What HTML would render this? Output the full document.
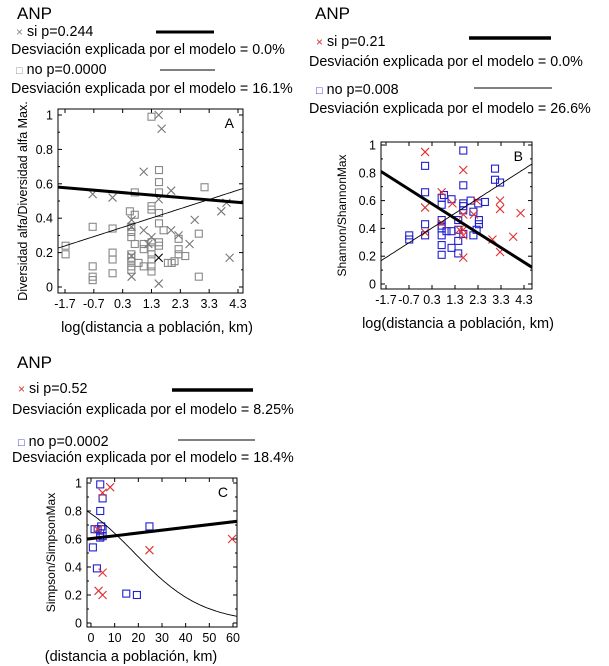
<!DOCTYPE html>
<html><head><meta charset="utf-8">
<style>
html,body{margin:0;padding:0;background:#fff;}
svg{display:block;font-family:"Liberation Sans",Arial,sans-serif;}
</style></head>
<body>
<svg id="chart" width="609" height="666" viewBox="0 0 609 666">
<g font-size="14.3" fill="#000">
<text x="17" y="19" font-size="17">ANP</text>
<text x="16" y="36"><tspan fill="#888" font-size="12">×</tspan> si   p=0.244</text>
<line x1="156" y1="32" x2="214" y2="32" stroke="#000" stroke-width="3"/>
<text x="11" y="54">Desviación explicada por el modelo = 0.0%</text>
<text x="16" y="74"><tspan fill="#888" font-size="11">□</tspan> no p=0.0000</text>
<line x1="160" y1="70" x2="215" y2="70" stroke="#000" stroke-width="1"/>
<text x="11" y="93">Desviación explicada por el modelo = 16.1%</text>

<text x="315" y="19" font-size="17">ANP</text>
<text x="316" y="46"><tspan fill="#e03030" font-size="12">×</tspan> si   p=0.21</text>
<line x1="469" y1="38" x2="551" y2="38" stroke="#000" stroke-width="3.5"/>
<text x="309" y="66">Desviación explicada por el modelo = 0.0%</text>
<text x="316" y="94"><tspan fill="#2020d0" font-size="11">□</tspan> no p=0.008</text>
<line x1="474" y1="88" x2="552" y2="88" stroke="#000" stroke-width="1"/>
<text x="309" y="113">Desviación explicada por el modelo = 26.6%</text>

<text x="17" y="368" font-size="17">ANP</text>
<text x="18" y="393"><tspan fill="#e03030" font-size="12">×</tspan> si   p=0.52</text>
<line x1="172" y1="390" x2="253" y2="390" stroke="#000" stroke-width="3.5"/>
<text x="12" y="414">Desviación explicada por el modelo = 8.25%</text>
<text x="18" y="446"><tspan fill="#2020d0" font-size="11">□</tspan> no p=0.0002</text>
<line x1="178" y1="440" x2="255" y2="440" stroke="#000" stroke-width="1"/>
<text x="12" y="462">Desviación explicada por el modelo = 18.4%</text>
</g>
<g id="plots"></g>
</svg>
<script>
// Panel A data
const aSqX=[1.3,1.56,1.56,1.56,1.56,1.56,1.56,1.56,1.3,1.3,1.3,1.3,1.3,1.3,1.3,1.3,1.03,1.03,1.03,0.72,0.72,0.85,0.55,0.6,0.6,0.6,0.6,0.6,0.6,0.6,0.6,-0.05,-0.05,-0.05,-0.05,-0.74,-0.74,-0.74,-0.74,-1.68,-1.68,0.72,1.72,1.87,2.0,2.1,2.24,2.24,2.24,2.47,2.94,2.94,3.14];
const aSqY=[0.99,0.68,0.61,0.55,0.43,0.37,0.26,0.24,0.47,0.45,0.26,0.23,0.19,0.16,0.12,0.09,0.25,0.22,0.12,0.42,0.25,0.14,0.44,0.35,0.32,0.29,0.19,0.17,0.15,0.12,0.10,0.34,0.20,0.16,0.08,0.35,0.12,0.06,0.04,0.24,0.19,0.55,0.33,0.14,0.14,0.15,0.19,0.22,0.28,0.18,0.31,0.06,0.58];
const aXX=[1.55,1.65,1.03,1.98,1.55,-0.74,-0.05,0.61,0.61,1.03,1.3,1.98,2.24,2.62,2.8,3.72,3.9,4.01,1.55,0.61,0.61,1.19];
const aXY=[1.0,0.92,0.67,0.56,0.51,0.54,0.52,0.39,0.35,0.33,0.29,0.33,0.30,0.25,0.39,0.44,0.49,0.17,0.02,0.18,0.06,0.25];
const aDarkX=[1.55], aDarkY=[0.17];
const aThick=[0.553,-0.0141], aThin=[0.331,0.054];
// Panel B data
const bSqX=[1.66,0.0,3.04,3.04,3.26,1.66,0.0,0.82,0.72,1.15,1.66,1.66,1.66,1.98,2.31,2.6,0.72,0.72,0.72,0.72,0.72,0.72,0.72,0.0,0.0,-0.69,-0.69,0.93,1.15,1.44,1.44,1.44,1.44,1.15,1.66,2.1,2.34,2.34,2.1,2.24];
const bSqY=[0.96,0.85,0.83,0.75,0.73,0.71,0.66,0.64,0.62,0.61,0.58,0.56,0.53,0.60,0.58,0.59,0.57,0.46,0.42,0.40,0.35,0.28,0.21,0.43,0.35,0.35,0.32,0.38,0.38,0.46,0.39,0.31,0.22,0.26,0.36,0.52,0.46,0.43,0.35,0.39];
const bXX=[0.0,1.66,3.26,3.26,4.15,0.0,0.72,1.19,1.66,2.12,2.24,0.0,0.72,1.49,1.66,1.66,2.93,3.83,3.26,1.66];
const bXY=[0.95,0.82,0.60,0.54,0.51,0.55,0.66,0.58,0.50,0.50,0.60,0.37,0.44,0.39,0.39,0.19,0.32,0.34,0.23,0.35];
const bThick=[0.608,-0.105], bThin=[0.371,0.106];
// Panel C data
const cSqX=[3.9,4.9,3.9,4.3,4.9,1.5,2.8,3.9,4.9,3.9,0.8,2.5,24.7,14.9,19.4];
const cSqY=[0.99,0.89,0.80,0.69,0.67,0.67,0.67,0.64,0.62,0.61,0.54,0.39,0.69,0.21,0.20];
const cXX=[8.1,4.9,2.8,4.9,3.2,4.9,24.7,59.6];
const cXY=[0.97,0.93,0.67,0.36,0.23,0.20,0.52,0.60];
const cThick=[0.603,0.002], cThinLogit=[1.27,-0.069];
const yTicks=[0,0.2,0.4,0.6,0.8,1];
const yTickLabels=["0","0.2","0.4","0.6","0.8","1"];
const logTicks=[-1.7,-0.7,0.3,1.3,2.3,3.3,4.3];
const logTickLabels=["-1.7","-0.7","0.3","1.3","2.3","3.3","4.3"];
const cTicks=[0,10,20,30,40,50,60];
const cTickLabels=["0","10","20","30","40","50","60"];

const NS="http://www.w3.org/2000/svg";
const root=document.getElementById('plots');
function mk(tag,attrs,parent){const e=document.createElementNS(NS,tag);for(const k in attrs)e.setAttribute(k,attrs[k]);(parent||root).appendChild(e);return e;}

function panel(cfg){
  const g=mk('g',{});
  
  
  const sx=v=>cfg.px0+(v-cfg.x0)*(cfg.px1-cfg.px0)/(cfg.x1-cfg.x0);
  const sy=v=>cfg.py0+(v-0)*(cfg.py1-cfg.py0)/(1-0);
  const L=cfg.box[0],T=cfg.box[1],R=cfg.box[2],B=cfg.box[3];
  const fr=mk('rect',{x:L,y:T,width:R-L,height:B-T,fill:'none',stroke:'#000','stroke-width':1},g);
  
  
  const cid=cfg.name+'-clip';
  const cp=mk('clipPath',{id:cid},g); mk('rect',{x:L,y:T,width:R-L,height:B-T},cp);
  yTicks.forEach((v,i)=>{
    const y=sy(v);
    mk('line',{x1:L,y1:y,x2:L+4,y2:y,stroke:'#000'},g);
    mk('line',{x1:R,y1:y,x2:R-4,y2:y,stroke:'#000'},g);
    const t=mk('text',{x:L-5,y:y+4.5,'font-size':12.5,'text-anchor':'end'},g);
    t.textContent=yTickLabels[i];
    
    
    if(i<yTicks.length-1){const m=sy(v+0.1);mk('line',{x1:L,y1:m,x2:L+2,y2:m,stroke:'#000'},g);mk('line',{x1:R,y1:m,x2:R-2,y2:m,stroke:'#000'},g);}
  });
  cfg.xt.forEach((v,i)=>{
    const x=sx(v);
    mk('line',{x1:x,y1:B,x2:x,y2:B-4,stroke:'#000'},g);
    mk('line',{x1:x,y1:T,x2:x,y2:T+4,stroke:'#000'},g);
    const t=mk('text',{x:x,y:B+15,'font-size':12.5,'text-anchor':'middle'},g);
    t.textContent=cfg.xl[i];
    
    
  });
  const yl=mk('text',{x:0,y:0,'font-size':cfg.ylfs,'text-anchor':'middle',transform:`translate(${cfg.ylx},${(T+B)/2}) rotate(-90)`},g);
  yl.textContent=cfg.ylabel;
  
  
  const xl=mk('text',{x:cfg.xlx,y:cfg.xly,'font-size':14.5,'text-anchor':'middle'},g);
  xl.textContent=cfg.xlabel;
  
  
  const lt=mk('text',{x:R-9,y:T+19,'font-size':14,'text-anchor':'end'},g);
  lt.textContent=cfg.letter;
  
  
  const pg=mk('g',{'clip-path':`url(#${cid})`},g);
  cfg.sqX.forEach((v,i)=>{
    const x=sx(v),y=sy(cfg.sqY[i]);
    const r=mk('rect',{x:x-3.5,y:y-3.5,width:7,height:7,fill:'none',stroke:cfg.sqCol,'stroke-width':1.1},pg);
    
    
  });
  const cross=(X,Y,col,nm)=>X.forEach((v,i)=>{
    const x=sx(v),y=sy(Y[i]);
    const p=mk('path',{d:`M${x-4},${y-4}L${x+4},${y+4}M${x-4},${y+4}L${x+4},${y-4}`,stroke:col,'stroke-width':1.1,fill:'none'},pg);
    
    
  });
  cross(cfg.xX,cfg.xY,cfg.xCol,'point-si');
  if(cfg.darkX) cross(cfg.darkX,cfg.darkY,'#000','point-si-dark');
  const xa=cfg.x0-0.1*(cfg.x1-cfg.x0), xb=cfg.x1+0.1*(cfg.x1-cfg.x0);
  const l1=mk('line',{x1:sx(xa),y1:sy(cfg.thick[0]+cfg.thick[1]*xa),x2:sx(xb),y2:sy(cfg.thick[0]+cfg.thick[1]*xb),stroke:'#000','stroke-width':3},pg);
  
  
  let d='';
  for(let k=0;k<=120;k++){const v=xa+(xb-xa)*k/120;const y=cfg.thinFn(v);d+=(k?'L':'M')+sx(v).toFixed(1)+','+sy(y).toFixed(1);}
  const l2=mk('path',{d:d,stroke:'#000','stroke-width':0.9,fill:'none'},pg);
  
  
}

panel({name:'panel-a',box:[58,109,243,293],x0:-1.7,x1:4.3,px0:65,px1:238,py0:287,py1:115,
  xt:logTicks,xl:logTickLabels,ylabel:'Diversidad alfa/Diversidad alfa Max.',ylfs:12.5,ylx:27,
  xlabel:'log(distancia a población, km)',xlx:157,xly:332,letter:'A',
  sqX:aSqX,sqY:aSqY,sqCol:'#888',xX:aXX,xY:aXY,xCol:'#777',darkX:aDarkX,darkY:aDarkY,
  thick:aThick,thinFn:v=>aThin[0]+aThin[1]*v});
panel({name:'panel-b',box:[381,142,532,289],x0:-1.7,x1:4.3,px0:386,px1:524,py0:284,py1:145,
  xt:logTicks,xl:logTickLabels,ylabel:'Shannon/ShannonMax',ylfs:12,ylx:346,
  xlabel:'log(distancia a población, km)',xlx:458,xly:328,letter:'B',
  sqX:bSqX,sqY:bSqY,sqCol:'#2020d0',xX:bXX,xY:bXY,xCol:'#e03030',
  thick:bThick,thinFn:v=>bThin[0]+bThin[1]*v});
panel({name:'panel-c',box:[87,478,237,627],x0:0,x1:60,px0:91,px1:233,py0:623,py1:483,
  xt:cTicks,xl:cTickLabels,ylabel:'Simpson/SimpsonMax',ylfs:12,ylx:55,
  xlabel:'(distancia a población, km)',xlx:131,xly:661,letter:'C',
  sqX:cSqX,sqY:cSqY,sqCol:'#2020d0',xX:cXX,xY:cXY,xCol:'#e03030',
  thick:cThick,thinFn:v=>1/(1+Math.exp(-(cThinLogit[0]+cThinLogit[1]*v)))});
</script>
</body></html>
